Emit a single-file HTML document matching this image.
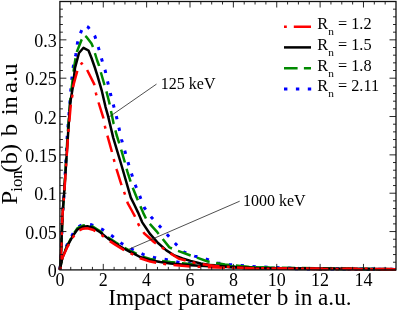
<!DOCTYPE html>
<html><head><meta charset="utf-8"><title>chart</title>
<style>
html,body{margin:0;padding:0;background:#fff;}
svg{display:block;font-family:"Liberation Serif",serif;will-change:transform;}
.c{fill:none;stroke-width:2.5;stroke-linejoin:round;}
</style></head><body>
<svg width="399" height="312" viewBox="0 0 399 312">
<rect width="399" height="312" fill="#fff"/>
<g id="curves">
<polyline class="c" stroke="#0000ff" style="stroke-width:3" stroke-dasharray="3.3 8.6" points="59.9,269.6 62.3,257.0 66.5,246.0 69.3,240.5 73.1,233.5 77.0,228.0 79.9,225.9 83.0,224.7 86.0,224.3 89.0,224.4 91.7,224.8 97.0,226.8 102.5,229.6 112.3,236.1 121.7,243.5 132.2,249.4 143.1,254.4 154.2,257.5 166.0,259.5 177.5,261.9 190.0,263.6 206.0,265.0 230.0,266.6 260.0,268.0 300.0,268.9 396.0,269.3"/>
<polyline class="c" stroke="#0000ff" style="stroke-width:3" stroke-dasharray="3.3 8.6" stroke-dashoffset="0.25" points="59.9,269.6 61.0,255.0 62.5,215.0 64.0,195.0 67.3,135.0 70.0,101.5 70.8,90.2 71.9,78.4 73.3,66.4 75.8,54.5 77.5,42.8 81.0,31.8 84.0,25.3 88.2,27.2 95.0,36.5 98.5,47.8 101.7,59.3 105.2,70.6 107.8,82.5 110.5,94.0 113.6,105.7 116.6,117.4 119.2,128.9 121.7,140.1 125.1,151.8 128.3,163.3 131.8,174.5 135.7,186.0 140.1,196.9 144.5,208.0 151.6,217.5 159.7,226.2 167.8,235.3 175.5,243.7 183.5,251.8 194.6,256.1 206.4,259.1 217.5,263.0 229.2,264.5 241.4,265.6 252.5,266.6 300.0,268.5 396.0,269.3"/>
<polyline class="c" stroke="#008a00" stroke-dasharray="13.5 6.5" points="59.9,269.6 62.5,256.8 67.0,246.0 73.1,234.4 77.6,228.1 82.9,225.5 87.4,225.0 92.7,226.5 100.2,231.2 107.8,237.3 115.6,242.4 123.7,247.4 130.0,250.8 133.8,252.4 140.1,255.8 150.2,259.0 160.3,260.7 170.4,262.1 190.6,263.9 209.8,265.0 250.0,267.3 396.0,269.3"/>
<polyline class="c" stroke="#008a00" stroke-dasharray="13.5 6.5" stroke-dashoffset="1.5" points="59.9,269.6 61.0,255.0 62.5,215.0 64.0,195.0 67.6,135.0 70.3,100.0 74.0,68.0 75.5,58.5 77.0,51.5 81.5,40.0 84.0,35.0 86.5,37.0 91.5,43.5 93.0,47.0 95.0,53.5 97.0,60.0 99.0,65.5 100.8,72.2 104.5,85.0 106.3,91.0 109.2,102.2 113.6,123.5 116.6,135.0 119.2,143.1 121.3,150.2 125.7,165.3 127.3,171.4 131.8,185.5 137.1,198.5 140.1,205.6 143.1,212.6 146.2,219.1 149.2,223.1 157.3,232.2 161.3,237.3 169.4,247.4 176.5,250.4 190.6,255.5 196.7,257.5 207.8,261.5 225.0,264.5 250.0,267.0 300.0,268.8 396.0,269.3"/>
<polyline class="c" stroke="#000" points="59.9,269.6 62.5,257.2 67.0,246.7 73.1,235.4 77.6,229.3 82.9,226.8 87.4,226.3 92.7,227.8 100.2,232.3 107.8,238.4 115.6,243.5 123.7,248.5 130.0,251.9 133.8,253.6 140.1,257.0 150.2,260.3 160.3,262.1 170.4,263.5 190.6,265.2 209.8,266.2 250.0,268.0 396.0,269.3"/>
<polyline class="c" stroke="#000" points="59.9,269.6 61.0,255.0 62.5,215.0 64.0,195.0 68.0,135.0 70.1,103.7 73.0,86.0 75.0,68.0 79.0,53.0 83.5,47.8 88.5,50.5 91.5,58.0 95.0,68.0 97.4,75.6 101.9,91.2 105.5,106.8 107.9,115.4 113.2,137.6 121.7,166.0 130.8,197.6 134.0,204.0 138.1,212.6 142.1,222.1 150.2,234.2 158.3,243.3 166.4,250.4 174.4,255.5 182.5,258.5 190.6,260.9 200.7,263.5 209.8,265.0 230.0,267.0 260.0,268.3 300.0,269.0 396.0,269.3"/>
<polyline class="c" stroke="#ff0000" stroke-dasharray="3 7.3 17 7.2" points="59.9,269.6 62.5,257.8 67.0,247.7 73.1,237.0 77.6,231.1 82.9,228.7 87.4,228.3 92.7,229.7 100.2,234.0 107.8,239.9 115.6,244.9 123.7,249.9 130.0,253.2 133.8,254.9 140.1,258.2 150.2,261.6 160.3,263.5 170.4,264.8 190.6,266.4 209.8,267.3 250.0,268.6 396.0,269.3"/>
<polyline class="c" stroke="#ff0000" stroke-dasharray="3 7.3 17 7.2" points="59.9,269.6 61.0,255.0 62.5,215.0 64.1,195.0 68.1,135.0 70.8,104.5 72.3,95.9 73.1,86.4 77.6,69.8 81.7,63.3 87.0,69.8 94.2,84.1 96.0,93.5 98.7,103.0 103.5,118.4 105.1,127.1 107.1,134.6 112.0,152.2 114.2,160.7 116.6,169.3 121.3,184.5 124.7,193.6 127.7,203.1 131.5,210.0 134.8,216.2 138.5,224.5 144.1,233.2 154.2,242.3 163.3,248.4 170.4,253.4 178.5,258.5 195.0,263.0 215.0,266.0 250.0,268.3 396.0,269.0"/>
</g>
<g stroke="#111" stroke-width="0.9" fill="none">
<rect x="59.9" y="1.5" width="336.1" height="268.4" stroke-width="1.3"/>
<line x1="70.74" y1="269.9" x2="70.74" y2="266.9"/>
<line x1="70.74" y1="1.5" x2="70.74" y2="4.5"/>
<line x1="81.58" y1="269.9" x2="81.58" y2="266.9"/>
<line x1="81.58" y1="1.5" x2="81.58" y2="4.5"/>
<line x1="92.43" y1="269.9" x2="92.43" y2="266.9"/>
<line x1="92.43" y1="1.5" x2="92.43" y2="4.5"/>
<line x1="103.27" y1="269.9" x2="103.27" y2="263.9"/>
<line x1="103.27" y1="1.5" x2="103.27" y2="7.5"/>
<line x1="114.11" y1="269.9" x2="114.11" y2="266.9"/>
<line x1="114.11" y1="1.5" x2="114.11" y2="4.5"/>
<line x1="124.95" y1="269.9" x2="124.95" y2="266.9"/>
<line x1="124.95" y1="1.5" x2="124.95" y2="4.5"/>
<line x1="135.79" y1="269.9" x2="135.79" y2="266.9"/>
<line x1="135.79" y1="1.5" x2="135.79" y2="4.5"/>
<line x1="146.64" y1="269.9" x2="146.64" y2="263.9"/>
<line x1="146.64" y1="1.5" x2="146.64" y2="7.5"/>
<line x1="157.48" y1="269.9" x2="157.48" y2="266.9"/>
<line x1="157.48" y1="1.5" x2="157.48" y2="4.5"/>
<line x1="168.32" y1="269.9" x2="168.32" y2="266.9"/>
<line x1="168.32" y1="1.5" x2="168.32" y2="4.5"/>
<line x1="179.16" y1="269.9" x2="179.16" y2="266.9"/>
<line x1="179.16" y1="1.5" x2="179.16" y2="4.5"/>
<line x1="190.00" y1="269.9" x2="190.00" y2="263.9"/>
<line x1="190.00" y1="1.5" x2="190.00" y2="7.5"/>
<line x1="200.85" y1="269.9" x2="200.85" y2="266.9"/>
<line x1="200.85" y1="1.5" x2="200.85" y2="4.5"/>
<line x1="211.69" y1="269.9" x2="211.69" y2="266.9"/>
<line x1="211.69" y1="1.5" x2="211.69" y2="4.5"/>
<line x1="222.53" y1="269.9" x2="222.53" y2="266.9"/>
<line x1="222.53" y1="1.5" x2="222.53" y2="4.5"/>
<line x1="233.37" y1="269.9" x2="233.37" y2="263.9"/>
<line x1="233.37" y1="1.5" x2="233.37" y2="7.5"/>
<line x1="244.21" y1="269.9" x2="244.21" y2="266.9"/>
<line x1="244.21" y1="1.5" x2="244.21" y2="4.5"/>
<line x1="255.05" y1="269.9" x2="255.05" y2="266.9"/>
<line x1="255.05" y1="1.5" x2="255.05" y2="4.5"/>
<line x1="265.90" y1="269.9" x2="265.90" y2="266.9"/>
<line x1="265.90" y1="1.5" x2="265.90" y2="4.5"/>
<line x1="276.74" y1="269.9" x2="276.74" y2="263.9"/>
<line x1="276.74" y1="1.5" x2="276.74" y2="7.5"/>
<line x1="287.58" y1="269.9" x2="287.58" y2="266.9"/>
<line x1="287.58" y1="1.5" x2="287.58" y2="4.5"/>
<line x1="298.42" y1="269.9" x2="298.42" y2="266.9"/>
<line x1="298.42" y1="1.5" x2="298.42" y2="4.5"/>
<line x1="309.26" y1="269.9" x2="309.26" y2="266.9"/>
<line x1="309.26" y1="1.5" x2="309.26" y2="4.5"/>
<line x1="320.11" y1="269.9" x2="320.11" y2="263.9"/>
<line x1="320.11" y1="1.5" x2="320.11" y2="7.5"/>
<line x1="330.95" y1="269.9" x2="330.95" y2="266.9"/>
<line x1="330.95" y1="1.5" x2="330.95" y2="4.5"/>
<line x1="341.79" y1="269.9" x2="341.79" y2="266.9"/>
<line x1="341.79" y1="1.5" x2="341.79" y2="4.5"/>
<line x1="352.63" y1="269.9" x2="352.63" y2="266.9"/>
<line x1="352.63" y1="1.5" x2="352.63" y2="4.5"/>
<line x1="363.47" y1="269.9" x2="363.47" y2="263.9"/>
<line x1="363.47" y1="1.5" x2="363.47" y2="7.5"/>
<line x1="374.32" y1="269.9" x2="374.32" y2="266.9"/>
<line x1="374.32" y1="1.5" x2="374.32" y2="4.5"/>
<line x1="385.16" y1="269.9" x2="385.16" y2="266.9"/>
<line x1="385.16" y1="1.5" x2="385.16" y2="4.5"/>
<line x1="59.9" y1="262.23" x2="62.9" y2="262.23"/>
<line x1="396.0" y1="262.23" x2="393.0" y2="262.23"/>
<line x1="59.9" y1="254.56" x2="62.9" y2="254.56"/>
<line x1="396.0" y1="254.56" x2="393.0" y2="254.56"/>
<line x1="59.9" y1="246.89" x2="62.9" y2="246.89"/>
<line x1="396.0" y1="246.89" x2="393.0" y2="246.89"/>
<line x1="59.9" y1="239.23" x2="62.9" y2="239.23"/>
<line x1="396.0" y1="239.23" x2="393.0" y2="239.23"/>
<line x1="59.9" y1="231.56" x2="66.4" y2="231.56"/>
<line x1="396.0" y1="231.56" x2="389.5" y2="231.56"/>
<line x1="59.9" y1="223.89" x2="62.9" y2="223.89"/>
<line x1="396.0" y1="223.89" x2="393.0" y2="223.89"/>
<line x1="59.9" y1="216.22" x2="62.9" y2="216.22"/>
<line x1="396.0" y1="216.22" x2="393.0" y2="216.22"/>
<line x1="59.9" y1="208.55" x2="62.9" y2="208.55"/>
<line x1="396.0" y1="208.55" x2="393.0" y2="208.55"/>
<line x1="59.9" y1="200.88" x2="62.9" y2="200.88"/>
<line x1="396.0" y1="200.88" x2="393.0" y2="200.88"/>
<line x1="59.9" y1="193.21" x2="66.4" y2="193.21"/>
<line x1="396.0" y1="193.21" x2="389.5" y2="193.21"/>
<line x1="59.9" y1="185.55" x2="62.9" y2="185.55"/>
<line x1="396.0" y1="185.55" x2="393.0" y2="185.55"/>
<line x1="59.9" y1="177.88" x2="62.9" y2="177.88"/>
<line x1="396.0" y1="177.88" x2="393.0" y2="177.88"/>
<line x1="59.9" y1="170.21" x2="62.9" y2="170.21"/>
<line x1="396.0" y1="170.21" x2="393.0" y2="170.21"/>
<line x1="59.9" y1="162.54" x2="62.9" y2="162.54"/>
<line x1="396.0" y1="162.54" x2="393.0" y2="162.54"/>
<line x1="59.9" y1="154.87" x2="66.4" y2="154.87"/>
<line x1="396.0" y1="154.87" x2="389.5" y2="154.87"/>
<line x1="59.9" y1="147.20" x2="62.9" y2="147.20"/>
<line x1="396.0" y1="147.20" x2="393.0" y2="147.20"/>
<line x1="59.9" y1="139.53" x2="62.9" y2="139.53"/>
<line x1="396.0" y1="139.53" x2="393.0" y2="139.53"/>
<line x1="59.9" y1="131.87" x2="62.9" y2="131.87"/>
<line x1="396.0" y1="131.87" x2="393.0" y2="131.87"/>
<line x1="59.9" y1="124.20" x2="62.9" y2="124.20"/>
<line x1="396.0" y1="124.20" x2="393.0" y2="124.20"/>
<line x1="59.9" y1="116.53" x2="66.4" y2="116.53"/>
<line x1="396.0" y1="116.53" x2="389.5" y2="116.53"/>
<line x1="59.9" y1="108.86" x2="62.9" y2="108.86"/>
<line x1="396.0" y1="108.86" x2="393.0" y2="108.86"/>
<line x1="59.9" y1="101.19" x2="62.9" y2="101.19"/>
<line x1="396.0" y1="101.19" x2="393.0" y2="101.19"/>
<line x1="59.9" y1="93.52" x2="62.9" y2="93.52"/>
<line x1="396.0" y1="93.52" x2="393.0" y2="93.52"/>
<line x1="59.9" y1="85.85" x2="62.9" y2="85.85"/>
<line x1="396.0" y1="85.85" x2="393.0" y2="85.85"/>
<line x1="59.9" y1="78.19" x2="66.4" y2="78.19"/>
<line x1="396.0" y1="78.19" x2="389.5" y2="78.19"/>
<line x1="59.9" y1="70.52" x2="62.9" y2="70.52"/>
<line x1="396.0" y1="70.52" x2="393.0" y2="70.52"/>
<line x1="59.9" y1="62.85" x2="62.9" y2="62.85"/>
<line x1="396.0" y1="62.85" x2="393.0" y2="62.85"/>
<line x1="59.9" y1="55.18" x2="62.9" y2="55.18"/>
<line x1="396.0" y1="55.18" x2="393.0" y2="55.18"/>
<line x1="59.9" y1="47.51" x2="62.9" y2="47.51"/>
<line x1="396.0" y1="47.51" x2="393.0" y2="47.51"/>
<line x1="59.9" y1="39.84" x2="66.4" y2="39.84"/>
<line x1="396.0" y1="39.84" x2="389.5" y2="39.84"/>
<line x1="59.9" y1="32.17" x2="62.9" y2="32.17"/>
<line x1="396.0" y1="32.17" x2="393.0" y2="32.17"/>
<line x1="59.9" y1="24.51" x2="62.9" y2="24.51"/>
<line x1="396.0" y1="24.51" x2="393.0" y2="24.51"/>
<line x1="59.9" y1="16.84" x2="62.9" y2="16.84"/>
<line x1="396.0" y1="16.84" x2="393.0" y2="16.84"/>
<line x1="59.9" y1="9.17" x2="62.9" y2="9.17"/>
<line x1="396.0" y1="9.17" x2="393.0" y2="9.17"/>
</g>
<g stroke="#222" stroke-width="0.8">
<line x1="156.5" y1="84.1" x2="108.4" y2="117.5"/>
<line x1="239.7" y1="201.2" x2="129" y2="249.2"/>
</g>
<g font-size="18" fill="#000">
<text x="59.9" y="285.9" text-anchor="middle">0</text>
<text x="103.3" y="285.9" text-anchor="middle">2</text>
<text x="146.6" y="285.9" text-anchor="middle">4</text>
<text x="190.0" y="285.9" text-anchor="middle">6</text>
<text x="233.4" y="285.9" text-anchor="middle">8</text>
<text x="276.7" y="285.9" text-anchor="middle">10</text>
<text x="320.1" y="285.9" text-anchor="middle">12</text>
<text x="363.5" y="285.9" text-anchor="middle">14</text>
<text x="56.8" y="276.9" text-anchor="end">0</text>
<text x="56.8" y="238.6" text-anchor="end">0.05</text>
<text x="56.8" y="200.2" text-anchor="end">0.1</text>
<text x="56.8" y="161.9" text-anchor="end">0.15</text>
<text x="56.8" y="123.5" text-anchor="end">0.2</text>
<text x="56.8" y="85.2" text-anchor="end">0.25</text>
<text x="56.8" y="46.8" text-anchor="end">0.3</text>
</g>
<g font-size="16" fill="#000">
<text x="160.8" y="88.8">125 keV</text>
<text x="243" y="206">1000 keV</text>
</g>
<g id="legend" fill="none" stroke-width="2.5">
<line x1="284" y1="26.7" x2="311" y2="26.7" stroke="#ff0000" stroke-dasharray="2.8 7 17.2 7"/>
<line x1="284" y1="47.4" x2="311" y2="47.4" stroke="#000"/>
<line x1="284" y1="68.2" x2="311" y2="68.2" stroke="#008a00" stroke-dasharray="13.6 6.3"/>
<line x1="284" y1="89" x2="311.4" y2="89" stroke="#0000ff" stroke-width="3.2" stroke-dasharray="3.4 8.5"/>
</g>
<g font-size="16.3" fill="#000">
<text x="317.3" y="29.3">R<tspan font-size="11.4" dy="6">n</tspan><tspan dy="-6"> = 1.2</tspan></text>
<text x="317.3" y="50">R<tspan font-size="11.4" dy="6">n</tspan><tspan dy="-6"> = 1.5</tspan></text>
<text x="317.3" y="70.7">R<tspan font-size="11.4" dy="6">n</tspan><tspan dy="-6"> = 1.8</tspan></text>
<text x="317.3" y="91.4">R<tspan font-size="11.4" dy="6">n</tspan><tspan dy="-6"> = 2.11</tspan></text>
</g>
<text x="108.2" y="305" font-size="23.2" fill="#000">Impact parameter b in a.u.</text>
<text transform="translate(16.8,204.5) rotate(-90) scale(1.06,1)" font-size="23.3" fill="#000"><tspan x="0" y="0">P</tspan><tspan x="12.1" y="4.8" font-size="15.8">ion</tspan><tspan x="30.0" y="0">(b)</tspan><tspan x="64.4" y="0">b</tspan><tspan x="84.2" y="0">in</tspan><tspan x="105.2" y="0">a.u</tspan></text>
</svg>
</body></html>
